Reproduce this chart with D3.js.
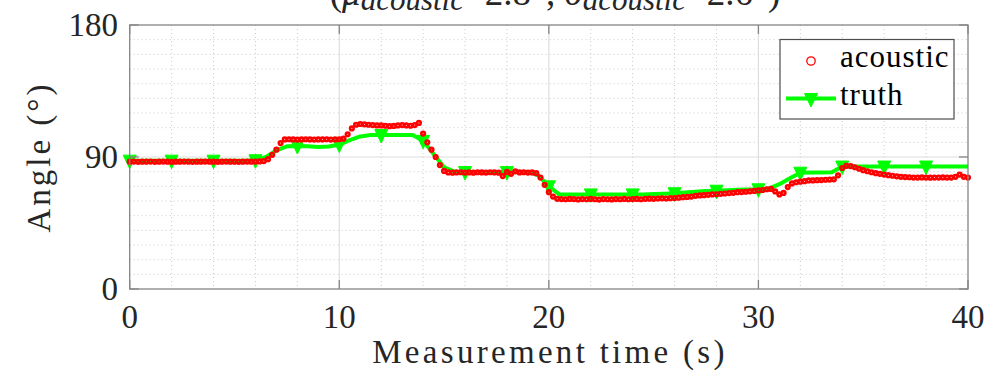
<!DOCTYPE html>
<html>
<head>
<meta charset="utf-8">
<script src="https://cdn.jsdelivr.net/npm/d3@7"></script>
<style>
  body { margin: 0; background: #fff; }
  svg { display: block; }
  text { font-family: "Liberation Serif", serif; }
</style>
</head>
<body>
<div id="chart"></div>
<script>
// ---- data ----
const xTicks = [0, 10, 20, 30, 40];
const yTicks = [0, 90, 180];
const xMinorTicks = [2, 4, 6, 8, 12, 14, 16, 18, 22, 24, 26, 28, 32, 34, 36, 38];
const yMinorTicks = [10, 20, 30, 40, 50, 60, 70, 80, 100, 110, 120, 130, 140, 150, 160, 170];

// acoustic estimate, one sample every 0.2 s from 0 to 40 s
const acousticStep = 0.2;
const acoustic = [
  86.8, 86.9, 86.7, 86.8, 86.8, 86.9, 86.7, 86.8, 86.9, 86.8,
  86.7, 86.8, 86.8, 86.9, 86.8, 86.7, 86.8, 86.8, 86.9, 86.8,
  86.8, 86.7, 86.8, 86.9, 86.8, 86.8, 86.7, 86.8, 86.9, 86.8,
  86.9, 87.0, 87.2, 88.5, 91.5, 95.0, 99.5, 102.0, 102.1, 102.0,
  101.9, 102.0, 102.1, 102.0, 101.9, 102.0, 102.0, 102.1, 101.9, 102.0,
  102.1, 102.5, 105.5, 109.5, 112.0, 112.5, 112.3, 112.0, 111.8, 111.5,
  111.5, 111.3, 111.0, 111.2, 111.5, 111.8, 111.5, 111.3, 111.8, 113.2,
  106.0, 100.0, 95.0, 90.0, 84.5, 80.5, 79.5, 79.3, 79.5, 79.6,
  79.4, 79.5, 79.3, 79.6, 79.5, 79.4, 79.6, 79.5, 79.3, 77.0,
  79.8, 78.5, 80.2, 79.5, 79.6, 79.4, 79.5, 79.0, 76.0, 71.0,
  66.0, 63.0, 61.5, 61.3, 61.2, 61.4, 61.3, 61.1, 61.3, 61.2,
  61.4, 61.2, 61.0, 61.3, 61.2, 61.1, 61.3, 61.2, 61.4, 61.2,
  61.3, 61.4, 61.2, 61.5, 61.6, 61.5, 61.7, 61.8, 61.7, 61.9,
  62.0, 62.3, 62.6, 62.8, 63.0, 63.5, 63.8, 64.0, 64.2, 64.5,
  64.6, 64.9, 65.1, 65.4, 65.6, 66.0, 66.1, 66.3, 66.6, 66.9,
  67.2, 67.5, 68.0, 68.2, 66.5, 64.5, 65.5, 69.5, 72.0, 72.8,
  73.2, 73.5, 74.0, 74.0, 74.2, 74.3, 74.5, 74.6, 74.8, 77.5,
  82.5, 84.0, 83.8, 83.0, 82.0, 81.0, 80.3, 79.6, 79.0, 78.5,
  78.0, 77.6, 77.2, 76.8, 76.5, 76.3, 76.2, 76.0, 76.0, 76.1,
  76.0, 75.9, 76.0, 76.0, 76.1, 76.0, 76.0, 76.5, 78.0, 76.5,
  76.0
];

// ground truth, one sample every 0.5 s from 0 to 40 s
const truthStep = 0.5;
const truth = [
  87.5, 87.5, 87.5, 87.5, 87.5, 87.5, 87.5, 87.5, 87.5, 87.5, 87.5, 87.5,
  87.8, 90.0, 94.5, 97.3, 97.5, 97.4, 96.8, 97.2, 98.5, 101.5,
  104.0, 105.0, 105.0, 105.0, 105.0, 105.0, 101.0, 92.0, 83.0, 80.0,
  79.7, 79.8, 79.8, 79.8, 79.7, 79.8, 79.8, 77.5, 70.0, 64.5,
  64.5, 64.5, 64.5, 64.5, 64.5, 64.5, 64.5, 64.5,
  64.8, 65.0, 65.3, 65.8, 66.3, 66.8, 67.0, 67.3, 67.6, 67.8,
  68.0, 68.5, 71.5, 75.5, 79.3, 79.5, 79.5, 79.6, 83.5,
  83.5, 83.5, 83.5, 83.5, 83.5, 83.5, 83.5, 83.5, 83.5, 83.5, 83.5, 83.5
];
const truthMarkerTimes = [0, 2, 4, 6, 8, 10, 12, 14, 16, 18, 20, 22, 24, 26, 28, 30, 32, 34, 36, 38];

const legendLabels = ["acoustic", "truth"];

// ---- layout ----
const width = 1002;
const height = 383;
const plot = { left: 129.7, right: 968, top: 25, bottom: 289 };
const serif = "Liberation Serif";
const axisColor = "#858585";
const red = "#ff0000";
const green = "#00ff00";
const triangle = "M-6.5,-5.5L6.5,-5.5L0,8Z";

const x = d3.scaleLinear().domain([0, 40]).range([plot.left, plot.right]);
const y = d3.scaleLinear().domain([0, 180]).range([plot.bottom, plot.top]);

const svg = d3
  .select("#chart")
  .append("svg")
  .attr("width", width)
  .attr("height", height);

svg.append("rect").attr("width", width).attr("height", height).attr("fill", "#fff");

// minor grid
const gridG = svg.append("g");
gridG
  .selectAll(".xminor")
  .data(xMinorTicks)
  .join("line")
  .attr("x1", (d) => x(d))
  .attr("x2", (d) => x(d))
  .attr("y1", plot.top)
  .attr("y2", plot.bottom)
  .attr("stroke", "#c9c9c9")
  .attr("stroke-width", 1)
  .attr("stroke-dasharray", "1,3");
gridG
  .selectAll(".yminor")
  .data(yMinorTicks)
  .join("line")
  .attr("y1", (d) => y(d))
  .attr("y2", (d) => y(d))
  .attr("x1", plot.left)
  .attr("x2", plot.right)
  .attr("stroke", "#c9c9c9")
  .attr("stroke-width", 1)
  .attr("stroke-dasharray", "1,3");

// major grid
gridG
  .selectAll(".xmajor")
  .data(xTicks.slice(1, -1))
  .join("line")
  .attr("x1", (d) => x(d))
  .attr("x2", (d) => x(d))
  .attr("y1", plot.top)
  .attr("y2", plot.bottom)
  .attr("stroke", "#dedede")
  .attr("stroke-width", 1.2);
gridG
  .selectAll(".ymajor")
  .data(yTicks.slice(1, -1))
  .join("line")
  .attr("y1", (d) => y(d))
  .attr("y2", (d) => y(d))
  .attr("x1", plot.left)
  .attr("x2", plot.right)
  .attr("stroke", "#dedede")
  .attr("stroke-width", 1.2);

// truth line + markers
const truthPoints = truth.map((v, i) => ({ t: i * truthStep, v }));
const line = d3
  .line()
  .x((d) => x(d.t))
  .y((d) => y(d.v));

svg
  .append("path")
  .datum(truthPoints)
  .attr("fill", "none")
  .attr("stroke", green)
  .attr("stroke-width", 4)
  .attr("stroke-linejoin", "round")
  .attr("d", line);

svg
  .append("g")
  .selectAll("path")
  .data(truthMarkerTimes)
  .join("path")
  .attr("transform", (t) => `translate(${x(t)},${y(truth[Math.round(t / truthStep)])})`)
  .attr("d", triangle)
  .attr("fill", green)
  .attr("stroke", green)
  .attr("stroke-width", 1);

// acoustic scatter
svg
  .append("g")
  .selectAll("circle")
  .data(acoustic)
  .join("circle")
  .attr("cx", (d, i) => x(i * acousticStep))
  .attr("cy", (d) => y(d))
  .attr("r", 1.8)
  .attr("fill", "none")
  .attr("stroke", red)
  .attr("stroke-width", 2.6);

// axes box + inward ticks
const axesG = svg.append("g").attr("stroke", axisColor).attr("stroke-width", 1.3);
axesG
  .append("rect")
  .attr("x", plot.left)
  .attr("y", plot.top)
  .attr("width", plot.right - plot.left)
  .attr("height", plot.bottom - plot.top)
  .attr("fill", "none");
const tickLen = 9;
xTicks.forEach((t) => {
  axesG.append("line").attr("x1", x(t)).attr("x2", x(t)).attr("y1", plot.bottom).attr("y2", plot.bottom - tickLen);
  axesG.append("line").attr("x1", x(t)).attr("x2", x(t)).attr("y1", plot.top).attr("y2", plot.top + tickLen);
});
yTicks.forEach((v) => {
  axesG.append("line").attr("y1", y(v)).attr("y2", y(v)).attr("x1", plot.left).attr("x2", plot.left + tickLen);
  axesG.append("line").attr("y1", y(v)).attr("y2", y(v)).attr("x1", plot.right).attr("x2", plot.right - tickLen);
});

// tick labels
svg
  .append("g")
  .selectAll("text")
  .data(xTicks)
  .join("text")
  .attr("x", (d) => x(d))
  .attr("y", 328)
  .attr("text-anchor", "middle")
  .style("font-family", serif)
  .style("font-size", "33px")
  .attr("fill", "#262626")
  .text((d) => d);

svg
  .append("g")
  .selectAll("text")
  .data(yTicks)
  .join("text")
  .attr("x", 118)
  .attr("y", (d) => y(d) + 10.5)
  .attr("text-anchor", "end")
  .style("font-family", serif)
  .style("font-size", "33px")
  .attr("fill", "#262626")
  .text((d) => d);

// axis labels
svg
  .append("text")
  .attr("x", 550)
  .attr("y", 363)
  .attr("text-anchor", "middle")
  .style("font-family", serif)
  .style("font-size", "33px")
  .style("letter-spacing", "3.3px")
  .attr("fill", "#262626")
  .text("Measurement time (s)");

svg
  .append("text")
  .attr("transform", "translate(50,157) rotate(-90)")
  .attr("text-anchor", "middle")
  .style("font-family", serif)
  .style("font-size", "33px")
  .style("letter-spacing", "3px")
  .attr("fill", "#262626")
  .text("Angle (°)");

// title (mostly cut off at the top edge, as in the reference)
const title = svg
  .append("text")
  .attr("x", 555)
  .attr("y", 4.5)
  .attr("text-anchor", "middle")
  .style("font-family", serif)
  .style("font-size", "37px")
  .attr("fill", "#262626");
title.append("tspan").text("(");
title.append("tspan").style("font-style", "italic").text("μ");
title.append("tspan").style("font-style", "italic").style("font-size", "31px").attr("dy", 5).text("acoustic");
title.append("tspan").attr("dy", -5).text("=2.8°, ");
title.append("tspan").style("font-style", "italic").text("σ");
title.append("tspan").style("font-style", "italic").style("font-size", "31px").attr("dy", 5).text("acoustic");
title.append("tspan").attr("dy", -5).text("=2.6°)");

// legend
const legend = svg.append("g");
legend
  .append("rect")
  .attr("x", 780)
  .attr("y", 39.5)
  .attr("width", 174)
  .attr("height", 79.5)
  .attr("fill", "#fff")
  .attr("stroke", "#4d4d4d")
  .attr("stroke-width", 1.2);
legend
  .append("circle")
  .attr("cx", 811)
  .attr("cy", 61)
  .attr("r", 4.2)
  .attr("fill", "none")
  .attr("stroke", red)
  .attr("stroke-width", 1.3);
legend
  .append("line")
  .attr("x1", 786)
  .attr("x2", 836)
  .attr("y1", 98.5)
  .attr("y2", 98.5)
  .attr("stroke", green)
  .attr("stroke-width", 4);
legend
  .append("path")
  .attr("transform", "translate(811,99)")
  .attr("d", triangle)
  .attr("fill", green)
  .attr("stroke", green);
legend
  .selectAll(".label")
  .data(legendLabels)
  .join("text")
  .attr("x", 840)
  .attr("y", (d, i) => [67, 105][i])
  .style("font-family", serif)
  .style("font-size", "31px")
  .style("letter-spacing", "1px")
  .attr("fill", "#000")
  .text((d) => d);
</script>
</body>
</html>
